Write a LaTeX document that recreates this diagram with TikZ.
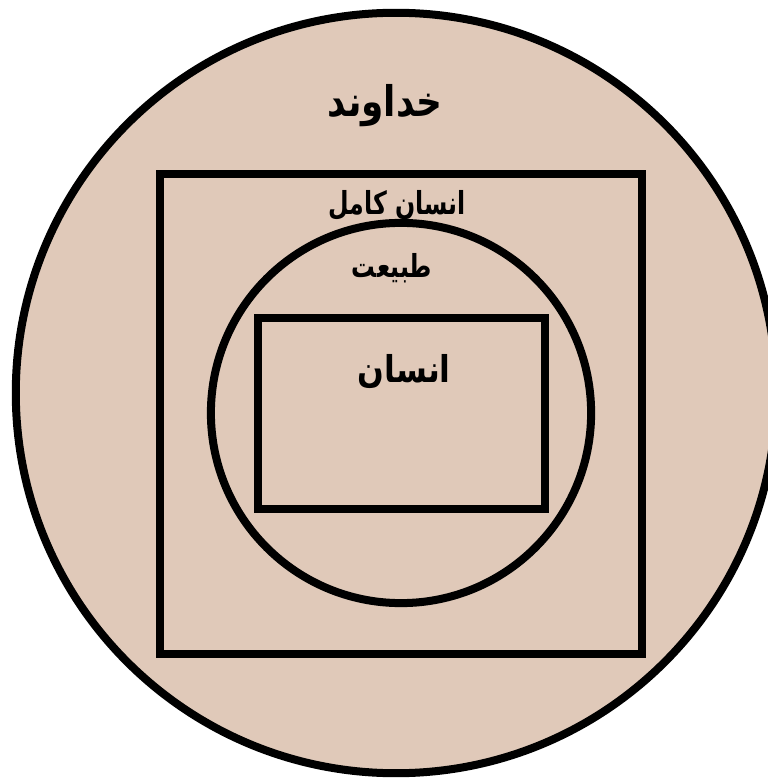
\documentclass[tikz,border=0pt]{standalone}
\usepackage{fontspec}
\newfontfamily\arabicfont[Script=Arabic]{DejaVu Sans}
\TeXXeTstate=1
\definecolor{skin}{RGB}{224,201,185}
\tikzset{
  lbl/.style={font=\arabicfont\bfseries\fontsize{12}{14}\selectfont, inner sep=0pt, xscale=0.85, transform shape},
  small lbl/.style={lbl, font=\arabicfont\bfseries\fontsize{9}{11}\selectfont, xscale=0.88},
}
\begin{document}
\begin{tikzpicture}[x=0.01cm, y=-0.01cm, line width=0.08cm]
    \useasboundingbox (0,0) rectangle (768,783);
    \clip (0,0) rectangle (768,783);
    \draw[fill=skin] (396,393) circle (3.8cm);
    \draw (160,174) rectangle (642,654);
    \draw (401,413) circle (1.9cm);
    \draw (258,318) rectangle (545,509);
    \node[lbl] (god) at (385,106) {\beginR خداوند\endR};
    \node[small lbl] (perfect) at (397,205) {\beginR انسان کامل\endR};
    \node[small lbl] (nature) at (392,268) {\beginR طبیعت\endR};
    \node[lbl, font=\arabicfont\bfseries\fontsize{10.5}{12}\selectfont] (human) at (404,372) {\beginR انسان\endR};
\end{tikzpicture}
\end{document}
